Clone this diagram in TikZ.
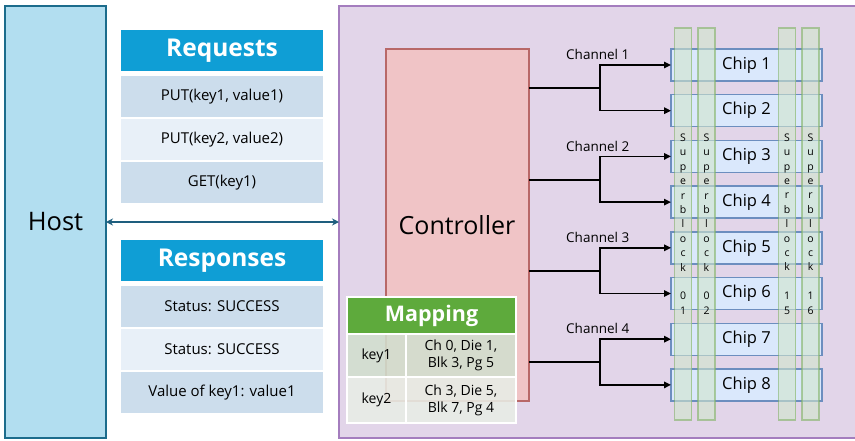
\documentclass[tikz,border=0pt]{standalone}
\usepackage{fontspec}
\setmainfont{Open Sans}
\usetikzlibrary{arrows.meta}
\definecolor{hostfill}{HTML}{B2DEF0}
\definecolor{hostline}{HTML}{1C6C8C}
\definecolor{headblue}{HTML}{0F9ED5}
\definecolor{rowdark}{HTML}{CCDDEC}
\definecolor{rowlight}{HTML}{E8F0F8}
\definecolor{linkteal}{HTML}{1E5E7E}
\definecolor{panelfill}{HTML}{E2D5E9}
\definecolor{panelline}{HTML}{A47DBE}
\definecolor{ctrlfill}{HTML}{F0C4C6}
\definecolor{ctrlline}{HTML}{B86868}
\definecolor{chipfill}{HTML}{DAE8FC}
\definecolor{chipline}{HTML}{6C8EBF}
\definecolor{sbfill}{HTML}{D0E6CC}
\definecolor{sbline}{HTML}{82B366}
\definecolor{mapgreen}{HTML}{5EAA3C}
\definecolor{maprowa}{HTML}{D2DFCE}
\definecolor{maprowb}{HTML}{E8EEE6}
\begin{document}
\begin{tikzpicture}[x=1pt,y=-1pt,
  box/.style={rectangle,inner sep=0pt,outer sep=0pt,anchor=north west},
  hostbox/.style={box,fill=hostfill,draw=hostline,line width=1.6pt,font=\fontsize{25.5}{28}\selectfont},
  head/.style={box,fill=headblue,minimum width=202pt,minimum height=41pt,text=white,font=\fontsize{24.5}{27}\selectfont\bfseries},
  rowa/.style={box,fill=rowdark,minimum width=202pt,minimum height=41pt,font=\fontsize{15}{17}\selectfont},
  rowb/.style={rowa,fill=rowlight},
  panel/.style={box,fill=panelfill,draw=panelline,line width=1.4pt},
  ctrl/.style={box,fill=ctrlfill,draw=ctrlline,line width=1.4pt},
  chip/.style={box,fill=chipfill,draw=chipline,line width=1.4pt,minimum width=151pt,minimum height=32pt,font=\fontsize{16.5}{19}\selectfont},
  sblock/.style={rectangle,inner sep=0pt,outer sep=0pt,minimum width=17pt,minimum height=392pt,
    fill=sbfill,fill opacity=0.6,text opacity=1,draw=sbline,draw opacity=0.6,line width=1.3pt,
    align=center,font=\fontsize{10.5}{14.4}\selectfont},
  chan/.style={line width=1.5pt,black},
  chanarrow/.style={chan,-{Triangle[length=7pt,width=6.5pt]}},
  chanlabel/.style={anchor=west,inner sep=0pt,font=\fontsize{13.5}{15}\selectfont},
  maphead/.style={box,fill=mapgreen,draw=white,line width=1.3pt,minimum width=169pt,minimum height=37pt,text=white,font=\fontsize{21.5}{24}\selectfont\bfseries},
  mapcell/.style={box,draw=white,line width=1.3pt,fill opacity=0.88,text opacity=1,align=center,font=\fontsize{14}{17}\selectfont},
]
\useasboundingbox (0,0) rectangle (855,440);

% host side
\node[hostbox,minimum width=101pt,minimum height=432pt] (host) at (5,6) {Host};

\node[head] (req) at (121,30) {Requests};
\node[rowa] (r1) at (121,76) {PUT(key1, value1)};
\node[rowb] (r2) at (121,119) {PUT(key2, value2)};
\node[rowa] (r3) at (121,162) {GET(key1)};

\node[head] (resp) at (121,240) {Responses};
\node[rowa] (s1) at (121,286) {Status: SUCCESS};
\node[rowb] (s2) at (121,329) {Status: SUCCESS};
\node[rowa] (s3) at (121,372) {Value of key1: value1};

% device side
\node[panel,minimum width=530pt,minimum height=432pt] (panel) at (339,6) {};

\draw[linkteal,line width=1.2pt,{Stealth[length=7pt,width=7pt]}-{Stealth[length=7pt,width=7pt]}] (host.east) -- (panel.west);

\node[ctrl,minimum width=143pt,minimum height=352pt] (ctrl) at (386,49) {};
\node[inner sep=0pt,font=\fontsize{25}{28}\selectfont] (ctrltext) at (457,225) {Controller};

\foreach \i in {1,...,8}{
  \node[chip] (chip\i) at (671,{49+45.7*(\i-1)}) {Chip \i};
}

% channels
\foreach \c/\a/\b/\y in {1/1/2/88,2/3/4/180,3/5/6/271,4/7/8/362}{
  \coordinate (j\c) at (600,\y);
  \draw[chan] (ctrl.east |- j\c) -- (j\c);
  \draw[chanarrow] (j\c) |- (chip\a.west);
  \draw[chanarrow] (j\c) |- (chip\b.west);
  \node[chanlabel] (cl\c) at (566,\y-34) {Channel \c};
}

% superblock columns
\foreach \n/\x/\da/\db in {1/683/0/1,2/706.5/0/2,3/787/1/5,4/810.5/1/6}{
  \node[sblock] (sb\n) at (\x,224) {S\\u\\p\\e\\r\\b\\l\\o\\c\\k\\[14.4pt]\da\\\db};
}

% mapping table
\node[maphead] (map) at (347,297) {Mapping};
\node[mapcell,fill=maprowa,minimum width=59pt,minimum height=43pt] (k1) at (347,334) {key1};
\node[mapcell,fill=maprowa,minimum width=110pt,minimum height=43pt] (v1) at (406,334) {Ch 0, Die 1,\\Blk 3, Pg 5};
\node[mapcell,fill=maprowb,minimum width=59pt,minimum height=46pt] (k2) at (347,377) {key2};
\node[mapcell,fill=maprowb,minimum width=110pt,minimum height=46pt] (v2) at (406,377) {Ch 3, Die 5,\\Blk 7, Pg 4};
\end{tikzpicture}
\end{document}
